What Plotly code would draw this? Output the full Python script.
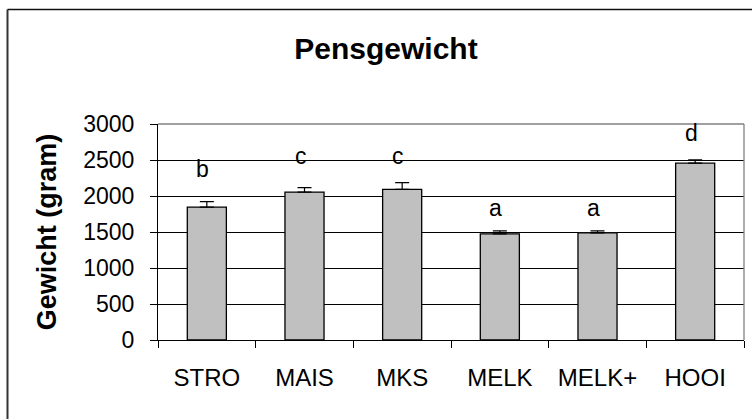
import plotly.graph_objects as go

categories = ["STRO", "MAIS", "MKS", "MELK", "MELK+", "HOOI"]
weights = [1846, 2055, 2093, 1475, 1489, 2456]
errors = [75, 62, 94, 42, 28, 46]
letters = ["b", "c", "c", "a", "a", "d"]
letter_y = [2372, 2554, 2554, 1835, 1835, 2879]
y_ticks = [0, 500, 1000, 1500, 2000, 2500, 3000]

FONT = "Liberation Sans, Arial, sans-serif"

fig = go.Figure()
fig.add_trace(go.Bar(
    x=categories, y=weights, width=0.4,
    marker=dict(color="#C0C0C0", line=dict(color="black", width=1.3)),
    error_y=dict(type="data", array=errors, arrayminus=[0] * len(errors),
                 symmetric=False, color="black", thickness=1.2, width=7),
    showlegend=False, hoverinfo="x+y",
))

for c, l, ly in zip(categories, letters, letter_y):
    fig.add_annotation(x=c, y=ly, text=l, showarrow=False, xshift=-4,
                       font=dict(family=FONT, size=23, color="black"),
                       xanchor="center", yanchor="middle")

# gray border on top and right of plot area
fig.add_shape(type="line", xref="paper", yref="paper", x0=0, x1=1, y0=1, y1=1,
              line=dict(color="#808080", width=1.3), layer="above")
fig.add_shape(type="line", xref="paper", yref="paper", x0=1, x1=1, y0=0, y1=1,
              line=dict(color="#808080", width=1.3), layer="above")
# outer chart frame (left and top)
pw = 752 - 158 - 8
ph = 419 - 124 - 79
fig.add_shape(type="line", xref="paper", yref="paper",
              x0=(7.5 - 158) / pw, x1=(752 - 158) / pw,
              y0=(340 - 9.5) / ph, y1=(340 - 9.5) / ph,
              line=dict(color="#111111", width=1.5), layer="above")
fig.add_shape(type="line", xref="paper", yref="paper",
              x0=(7.5 - 158) / pw, x1=(7.5 - 158) / pw,
              y0=(340 - 9.5) / ph, y1=(340 - 419) / ph,
              line=dict(color="#333333", width=2), layer="above")

fig.update_layout(
    width=752, height=419,
    margin=dict(l=158, r=8, t=124, b=79, autoexpand=False),
    paper_bgcolor="white", plot_bgcolor="white",
    font=dict(family=FONT, color="black"),
    title=dict(text="<b>Pensgewicht</b>", xref="container", yref="container",
               x=386 / 752, y=1 - 48 / 419, xanchor="center", yanchor="middle",
               font=dict(family=FONT, size=30, color="black")),
    bargap=0.6,
)
fig.update_xaxes(
    type="category", tickson="boundaries", ticks="outside", ticklen=7,
    tickcolor="black", tickwidth=1, showline=True, linecolor="black", linewidth=1.2,
    showgrid=False, tickfont=dict(family=FONT, size=24, color="black"),
    ticklabelstandoff=16, automargin=False,
)
fig.update_yaxes(
    range=[0, 3000], tickvals=y_ticks, ticks="outside", ticklen=7,
    tickcolor="black", tickwidth=1, showline=True, linecolor="black", linewidth=1.2,
    showgrid=True, gridcolor="black", gridwidth=1, zeroline=False,
    tickfont=dict(family=FONT, size=23, color="black"),
    ticklabelstandoff=11, automargin=False,
    title=dict(text="<b>Gewicht (gram)</b>", standoff=18,
               font=dict(family=FONT, size=27, color="black")),
)

fig.write_html(
    "out.html",
    config={"displayModeBar": False},
    post_script="document.body.style.margin='0';document.body.style.overflow='hidden';",
)
